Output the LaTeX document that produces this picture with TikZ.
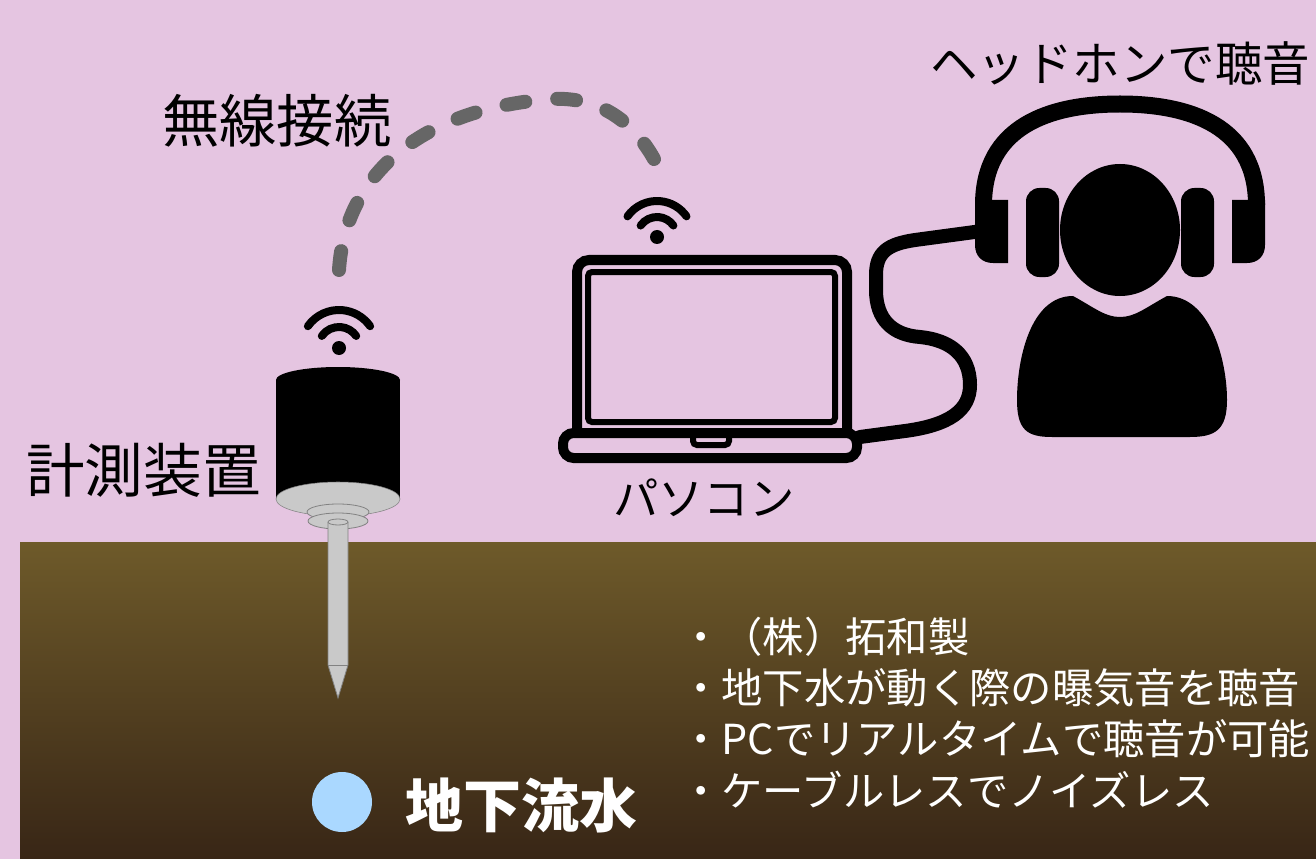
\documentclass[tikz,border=0pt]{standalone}
\usepackage{fontspec}
\newfontfamily\jp{Noto Sans CJK JP}
\usetikzlibrary{calc}
\definecolor{bgpink}{RGB}{229,197,225}
\definecolor{soiltop}{RGB}{110,90,42}
\definecolor{soilbot}{RGB}{56,38,22}
\definecolor{metal}{RGB}{201,201,201}
\definecolor{metaledge}{RGB}{130,130,130}
\definecolor{linkgray}{RGB}{102,102,102}
\definecolor{water}{RGB}{170,216,255}
\begin{document}
\begin{tikzpicture}[x=0.75pt,y=-0.75pt,
  wave/.style={line width=6pt,line cap=round},
  radiolink/.style={draw=linkgray,line width=10.5pt,line cap=round,dash pattern=on 14.25pt off 24pt},
  cable/.style={line width=10.5pt,line cap=round,line join=round},
  metalpart/.style={fill=metal,draw=metaledge,line width=0.6pt},
  lbl/.style={inner sep=0pt,anchor=west,font=\jp},
  item/.style={inner sep=0pt,anchor=west,text=white,font=\jp\fontsize{31}{36}\selectfont}]

% backdrop and soil
\fill[bgpink] (0,0) rectangle (1316,859);
\useasboundingbox (0,0) rectangle (1316,859);
\shade[top color=soiltop,bottom color=soilbot] (20,542) rectangle (1316,859);

% ---------------- measuring device ----------------
\fill[black] (276,380) rectangle (400,499);
\fill[black] (338,380) ellipse[x radius=62,y radius=13];
\fill[metal] (338,499) ellipse[x radius=62,y radius=17];
\draw[metaledge,line width=0.4pt] (338,499) ellipse[x radius=62,y radius=17];
\draw[metalpart] (338,512) ellipse[x radius=31,y radius=8];
\draw[metalpart] (338,521) ellipse[x radius=30,y radius=8];
% probe
\draw[metalpart] (328,522) -- (328,665) -- (338,698) -- (348,665) -- (348,522);
\draw[metaledge,line width=0.4pt] (328,665) -- (348,665);
\draw[metalpart] (338,522) ellipse[x radius=10,y radius=3];
% radio icon
\fill (339,348) circle[radius=7];
\draw[wave] (339,348) ++(215:21) arc[start angle=215,end angle=325,radius=21];
\draw[wave] (339,348) ++(215:38) arc[start angle=215,end angle=325,radius=38];
\coordinate (sensorradio) at (339,270);

% ---------------- laptop ----------------
\draw[line width=7.5pt,rounded corners=9pt] (577,437) -- (577,260) -- (847,260) -- (847,437);
\draw[line width=4.5pt,rounded corners=3pt] (588,272) rectangle (835,422);
\draw[line width=7.5pt,fill=bgpink,rounded corners=8pt] (563,433) rectangle (857,458);
\draw[line width=4.5pt,rounded corners=3pt] (693,433) -- (693,445) -- (729,445) -- (729,433);
\fill (657,237) circle[radius=7];
\draw[wave] (657,237) ++(215:20) arc[start angle=215,end angle=325,radius=20];
\draw[wave] (657,237) ++(215:36) arc[start angle=215,end angle=325,radius=36];
\coordinate (pcradio) at (654,159);
\coordinate (pcport) at (860,437);

% ---------------- listener with headphones ----------------
\draw[line width=12.75pt] (983.5,205) .. controls (983.5,126) and (1050,104) .. (1120,104)
  .. controls (1190,104) and (1256.5,126) .. (1256.5,205);
\fill (975,200) -- (1008,200) -- (1008,263) -- (993,263) .. controls (982,263) and (975,256) .. (975,245) -- cycle;
\fill (1265,200) -- (1232,200) -- (1232,263) -- (1247,263) .. controls (1258,263) and (1265,256) .. (1265,245) -- cycle;
\fill[rounded corners=10pt] (1026,188) rectangle (1059,277);
\fill[rounded corners=10pt] (1181,188) rectangle (1214,277);
\fill (1120,230) ellipse[x radius=60,y radius=66];
\fill (1073,296) .. controls (1095,308) and (1105,317) .. (1120,317)
  .. controls (1135,317) and (1145,308) .. (1167,296)
  .. controls (1210,296) and (1227,360) .. (1227,400)
  .. controls (1227,430) and (1215,437) .. (1190,437) -- (1052,437)
  .. controls (1027,437) and (1017,430) .. (1017,400)
  .. controls (1017,360) and (1030,296) .. (1073,296) -- cycle;
\coordinate (hpjack) at (982,231);

% ---------------- connections ----------------
\draw[radiolink] (sensorradio) .. controls (345,175) and (420,112) .. (540,100)
  .. controls (600,92) and (635,125) .. (pcradio);
\draw[cable] (pcport) -- (905,431) .. controls (950,425) and (970,410) .. (970,385)
  .. controls (970,355) and (950,340) .. (920,337)
  .. controls (893,335) and (876,320) .. (876,290) -- (876,275)
  .. controls (876,252) and (888,244) .. (915,240) -- (hpjack);

% ---------------- groundwater ----------------
\fill[water] (342,802) circle[radius=30];

% ---------------- labels ----------------
\node[lbl,font=\jp\fontsize{35.6}{40}\selectfont] (lblhp) at (930,63) {ヘッドホンで聴音};
\node[lbl,font=\jp\fontsize{43}{48}\selectfont] (lblwl) at (162,121) {無線接続};
\node[lbl,font=\jp\fontsize{44}{50}\selectfont] (lblsensor) at (26,470) {計測装置};
\node[lbl,font=\jp\fontsize{34}{40}\selectfont] (lblpc) at (613,498) {パソコン};
\node[lbl,text=white,font=\jp\bfseries\fontsize{43.5}{48}\selectfont] (lblwater) at (405,805) {地下流水};
\node[item] (item1) at (680,637) {・（株）拓和製};
\node[item] (item2) at (680,688) {・地下水が動く際の曝気音を聴音};
\node[item] (item3) at (680,739) {・PCでリアルタイムで聴音が可能};
\node[item] (item4) at (680,790) {・ケーブルレスでノイズレス};
\end{tikzpicture}
\end{document}
